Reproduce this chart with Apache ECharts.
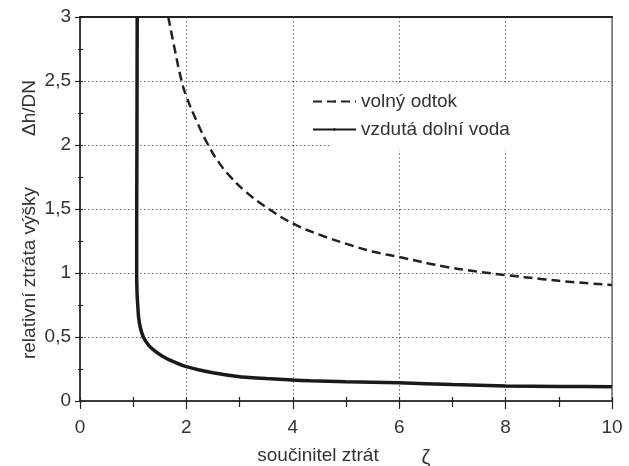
<!DOCTYPE html>
<html><head><meta charset="utf-8">
<script src="https://cdn.jsdelivr.net/npm/echarts@6/dist/echarts.min.js"></script>
<style>html,body{margin:0;padding:0;background:#fff}#c{width:629px;height:466px}</style>
</head><body><div id="c"></div>
<script>
// Data
var seriesNames = ['volný odtok', 'vzdutá dolní voda'];
var volnyOdtok = [
  [1.66,3.0],[1.78,2.75],[1.91,2.5],[2.0,2.38],[2.2,2.18],[2.41,2.0],[2.6,1.87],[2.82,1.755],
  [3.13,1.63],[3.55,1.5],[4.0,1.388],[4.5,1.3],[5.07,1.22],[5.5,1.168],[6.0,1.125],[6.82,1.053],
  [7.46,1.012],[8.0,0.984],[8.7,0.952],[9.3,0.928],[10.0,0.906]
];
var vzdutaDolniVoda = [
  [1.075,3.0],[1.07,2.0],[1.065,1.3],[1.065,1.0],[1.075,0.82],[1.09,0.72],[1.1,0.66],[1.13,0.58],
  [1.19,0.5],[1.3,0.43],[1.41,0.39],[1.55,0.35],[1.69,0.32],[2.0,0.268],[2.5,0.22],[3.0,0.19],
  [3.5,0.175],[4.0,0.164],[4.32,0.158],[5.0,0.15],[6.0,0.143],[7.0,0.128],[8.0,0.117],[9.0,0.113],[10.0,0.112]
];
var xTicks = [0, 2, 4, 6, 8, 10];
var yTicks = [0, 0.5, 1, 1.5, 2, 2.5, 3];
var xName = 'součinitel ztrát';
var xSymbol = 'ζ';
var yName = 'relativní ztráta výšky';
var yUnit = 'Δh/DN';

var FONT = '"Liberation Sans", Arial, Helvetica, sans-serif';
var chart = echarts.init(document.getElementById('c'), null, {renderer: 'canvas'});
var xMin = xTicks[0], xMax = xTicks[xTicks.length-1], xInt = xTicks[1]-xTicks[0];
var yMin = yTicks[0], yMax = yTicks[yTicks.length-1], yInt = yTicks[1]-yTicks[0];
var gridLine = {show: true, lineStyle: {color: '#666', type: [1.5, 2.5], width: 1}};
var dark = '#222';

chart.setOption({
  animation: false,
  backgroundColor: '#fff',
  grid: {left: 80, right: 17, top: 17, bottom: 65, show: true, borderColor: dark, borderWidth: 1, backgroundColor: 'transparent'},
  xAxis: [
    {type: 'value', min: xMin, max: xMax, interval: xInt, position: 'bottom',
     axisLine: {show: true, lineStyle: {color: dark, width: 1.5}},
     axisTick: {show: true, inside: false, length: 8, lineStyle: {color: dark, width: 1.2}},
     minorTick: {show: true, splitNumber: 2, length: 6, lineStyle: {color: dark, width: 1.2}},
     axisLabel: {margin: 17, fontSize: 19, color: '#333', fontFamily: FONT},
     splitLine: gridLine},
    {type: 'value', min: xMin, max: xMax, interval: xInt, position: 'bottom', offset: 0,
     axisLine: {show: false},
     axisTick: {show: true, inside: true, length: 4, lineStyle: {color: dark, width: 1.2}},
     minorTick: {show: true, splitNumber: 2, length: 4, lineStyle: {color: dark, width: 1.2}},
     axisLabel: {show: false}, splitLine: {show: false}},
    {type: 'value', min: xMin, max: xMax, interval: xInt, position: 'top', offset: 0,
     axisLine: {show: true, lineStyle: {color: dark, width: 2}},
     axisTick: {show: false}, axisLabel: {show: false}, splitLine: {show: false}}
  ],
  yAxis: [
    {type: 'value', min: yMin, max: yMax, interval: yInt, position: 'left',
     axisLine: {show: true, lineStyle: {color: dark, width: 1.5}},
     axisTick: {show: true, inside: false, length: 5, lineStyle: {color: dark, width: 1.2}},
     minorTick: {show: true, splitNumber: 2, length: 2, lineStyle: {color: dark, width: 1.2}},
     axisLabel: {margin: 9, fontSize: 19, color: '#333', fontFamily: FONT,
       formatter: function (v) { return String(v).replace('.', ','); }},
     splitLine: gridLine},
    {type: 'value', min: yMin, max: yMax, interval: yInt, position: 'left', offset: 0,
     axisLine: {show: false},
     axisTick: {show: true, inside: true, length: 3, lineStyle: {color: dark, width: 1.2}},
     minorTick: {show: true, splitNumber: 2, length: 3, lineStyle: {color: dark, width: 1.2}},
     axisLabel: {show: false}, splitLine: {show: false}}
  ],
  legend: {
    left: 307, top: 87, orient: 'vertical', itemWidth: 43, itemHeight: 3, itemGap: 9,
    textStyle: {fontSize: 19, color: '#333', fontFamily: FONT},
    data: seriesNames
  },
  graphic: [
    {type: 'rect', z: 1, shape: {x: 330, y: 84, width: 281, height: 66}, style: {fill: '#fff'}, silent: true},
    {type: 'text', x: 30, y: 273, rotation: Math.PI / 2, z: 5,
     style: {text: yName, font: '19px ' + FONT, fill: '#333', align: 'center', verticalAlign: 'middle'}},
    {type: 'text', x: 30, y: 108, rotation: Math.PI / 2, z: 5,
     style: {text: yUnit, font: '19px ' + FONT, fill: '#333', align: 'center', verticalAlign: 'middle'}},
    {type: 'text', x: 318, y: 456, z: 5,
     style: {text: xName, font: '19px ' + FONT, fill: '#333', align: 'center', verticalAlign: 'middle'}},
    {type: 'text', x: 426, y: 458, z: 5,
     style: {text: xSymbol, font: '20px ' + FONT, fill: '#333', align: 'center', verticalAlign: 'middle'}}
  ],
  series: [
    {name: seriesNames[0], type: 'line', data: volnyOdtok, smooth: 0.5, showSymbol: false, symbol: 'none',
     lineStyle: {color: '#222', width: 2.5, type: [9, 5]}, itemStyle: {color: '#222'}, z: 3},
    {name: seriesNames[1], type: 'line', data: vzdutaDolniVoda, smooth: 0.2, showSymbol: false, symbol: 'none',
     lineStyle: {color: '#1a1a1a', width: 3.5}, itemStyle: {color: '#1a1a1a'}, z: 3}
  ]
});
</script></body></html>
